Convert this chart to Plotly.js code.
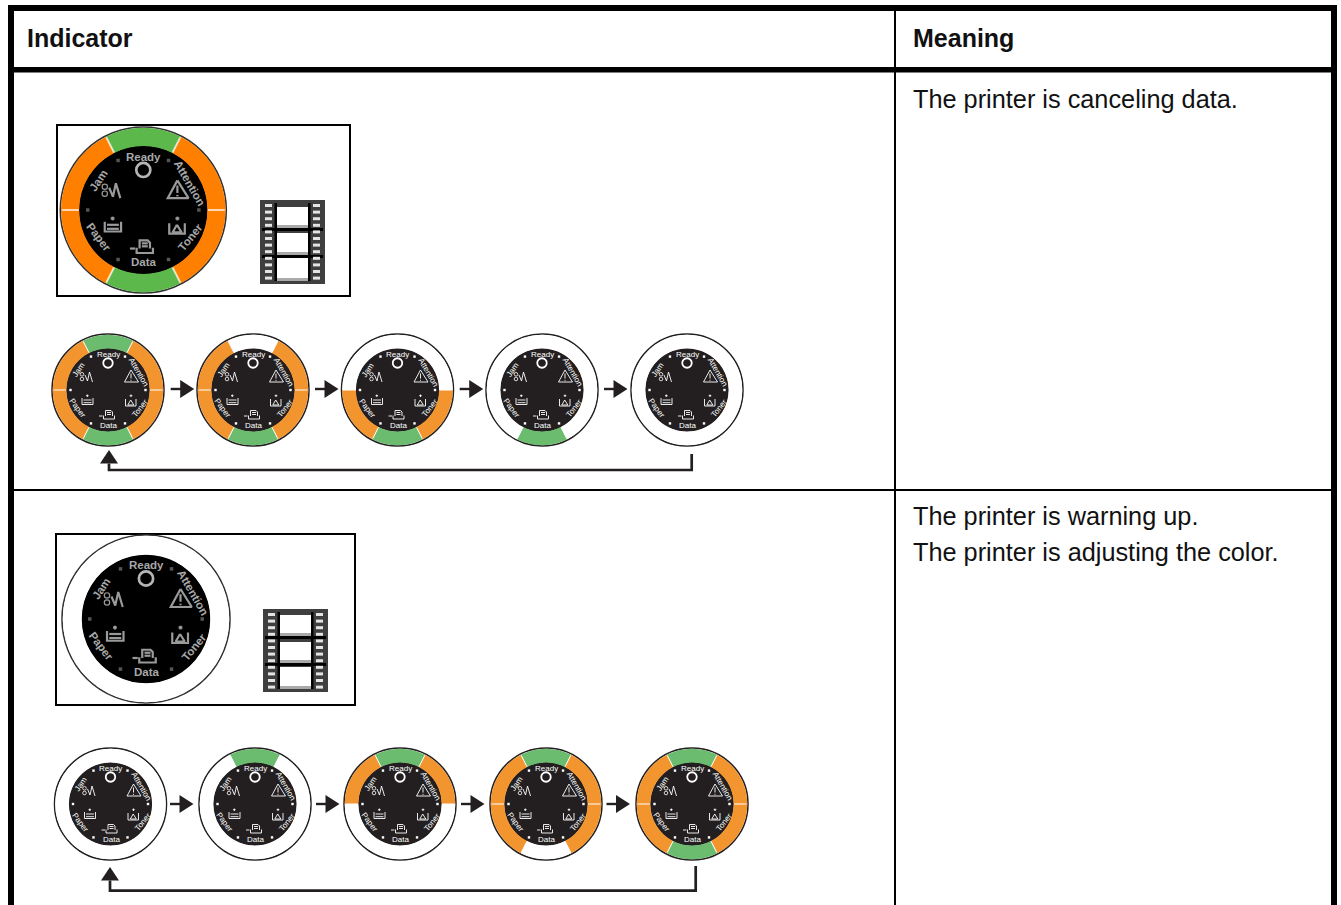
<!DOCTYPE html>
<html><head><meta charset="utf-8">
<script src="https://cdn.plot.ly/plotly-3.0.1.min.js"></script>
<style>html,body{margin:0;padding:0;background:#fff;overflow:hidden}#chart{width:1341px;height:905px}</style>
</head><body><div id="chart"></div>
<script>
// ---- content ----
const headers = ['Indicator', 'Meaning'];
const meaningRow1 = ['The printer is canceling data.'];
const meaningRow2 = ['The printer is warning up.', 'The printer is adjusting the color.'];
// clockwise from the top of the dial
const sectorShare = [54, 63, 63, 54, 63, 63];
const largeCancel = ['g','o','o','g','o','o'];
const largeWarm   = ['w','w','w','w','w','w'];
const cancelFrames = [
  ['g','o','o','g','o','o'],
  ['w','o','o','g','o','o'],
  ['w','w','o','g','o','w'],
  ['w','w','w','g','w','w'],
  ['w','w','w','w','w','w']
];
const warmFrames = [
  ['w','w','w','w','w','w'],
  ['g','w','w','w','w','w'],
  ['g','o','w','w','w','o'],
  ['g','o','o','w','o','o'],
  ['g','o','o','g','o','o']
];
const dialWords = ['Ready','Attention','Toner','Data','Paper','Jam'];

// ---- layout geometry ----
const W = 1341, H = 905;
const FONT = '"Liberation Sans", Arial, sans-serif';
const wordPlace = [[0,-36,0],[31,-18,60],[32,18.5,-51],[0.5,35,0],[-30,18,53],[-30,-20,-56]];
const row1Centers = [108,253,397.5,542,687], row1Y = 390;
const row2Centers = [110.5,255,400,546,692], row2Y = 804;
const arrow1X = [170.7,315,459.7,604], arrow2X = [170,316,461,606.5];

// dial glyph outlines, offsets from dial centre at small scale
const glyphLines = [
  [[-23,-15],[-20.5,-9],[-18.5,-18],[-15.5,-8]],
  [[23,-20],[16.5,-8],[30.5,-8],[23,-20]],
  [[23,-16.5],[23,-11.5]],[[23,-10.2],[23,-9.2]],
  [[-26,8],[-26,14.5],[-15,14.5],[-15,8]],
  [[-24.5,10],[-16.5,10]],[[-24.5,12.7],[-16.5,12.7]],
  [[-20.7,4.5],[-20.7,7]],[[-22,5.7],[-19.4,5.7]],
  [[17.5,9],[17.5,16],[28,16],[28,9]],
  [[22.7,10],[19.8,15],[25.8,15],[22.7,10]],
  [[23,4.5],[23,7]],[[21.7,5.7],[24.3,5.7]],
  [[-2.5,26],[-2.5,20.5],[3,20.5],[4.5,22],[4.5,26]],
  [[-1,22.5],[3,22.5]],[[-1,24.5],[3,24.5]],
  [[-4.5,25.5],[-4.5,29],[6.5,29],[6.5,25.5]],
  [[-9,26],[-5.5,26]]
];
const glyphLoops = [[-26,-15.7],[-26,-11]];

const traces = [], shapes = [], annotations = [];
const rect = (x0,y0,x1,y1,fill,layer) => shapes.push({type:'rect',xref:'x',yref:'y',x0,y0,x1,y1,
  fillcolor:fill,line:{width:0},layer:layer||'below'});

// table rules
rect(8,5,1337,11,'#000'); rect(8,5,14,H,'#000'); rect(1331,5,1337,H,'#000');
rect(8,67,1337,72.4,'#000'); rect(894,11,896,H,'#000'); rect(14,489,1331,491,'#000');

function textAt(x,y,text,size,color,bold,angle){
  annotations.push({xref:'x',yref:'y',x,y,text:bold?'<b>'+text+'</b>':text,showarrow:false,
    xanchor:angle===undefined?'left':'center',yanchor:'middle',borderpad:0,borderwidth:0,
    textangle:angle||0,font:{family:FONT,size,color}});
}

function dial(cx,cy,R,r,states,big){
  const s = R/56, pal = big?{g:'#5DB84B',o:'#FF7F00',w:'#ffffff'}:{g:'#6CBC70',o:'#F3952F',w:'#ffffff'};
  const ink = big?'#9a9a9a':'#ffffff', face = big?'#000000':'#231F20';
  traces.push({type:'scatter',mode:'markers',x:[cx],y:[cy],hoverinfo:'skip',showlegend:false,
    marker:{size:2*R,color:'#ffffff',line:{color:big?'#333':'#231F20',width:big?1.6:1.5}}});
  traces.push({type:'scatter',mode:'markers',x:[cx],y:[cy],hoverinfo:'skip',showlegend:false,
    marker:{size:2*r,color:face,line:{width:0}}});
  const Rp = R-0.7;
  traces.push({type:'pie',values:sectorShare,sort:false,direction:'clockwise',rotation:-sectorShare[0]/2,
    hole:(r-0.4)/Rp,textinfo:'none',hoverinfo:'skip',showlegend:false,
    marker:{colors:states.map(k=>pal[k]),line:{width:0}},
    domain:{x:[(cx-Rp)/W,(cx+Rp)/W],y:[1-(cy+Rp)/H,1-(cy-Rp)/H]}});
  // sector seams and dots at every boundary
  let a = -sectorShare[0]/2; const dx=[],dy=[];
  sectorShare.forEach(v=>{
    const t=a*Math.PI/180, sx=Math.sin(t), cy_=-Math.cos(t);
    shapes.push({type:'line',xref:'x',yref:'y',layer:'above',x0:cx+sx*r,y0:cy+cy_*r,x1:cx+sx*(R-1.5),y1:cy+cy_*(R-1.5),
      line:{color:big?'rgba(255,255,255,0.7)':'#ffffff',width:big?2:1}});
    dx.push(cx+sx*37.5*s); dy.push(cy+cy_*37.5*s);
    a+=v;
  });
  traces.push({type:'scatter',mode:'markers',x:dx,y:dy,hoverinfo:'skip',showlegend:false,
    marker:{size:big?3.5:2.4,symbol:'square',color:big?'#555':'#fff'}});
  // glyphs
  const gx=[],gy=[];
  glyphLines.forEach(l=>{l.forEach(p=>{gx.push(cx+p[0]*s);gy.push(cy+p[1]*s);});gx.push(null);gy.push(null);});
  traces.push({type:'scatter',mode:'lines',x:gx,y:gy,hoverinfo:'skip',showlegend:false,
    line:{color:ink,width:big?2.2:0.9}});
  traces.push({type:'scatter',mode:'markers',x:[cx],y:[cy-27*s],hoverinfo:'skip',showlegend:false,
    marker:{symbol:'circle-open',size:9.5*s,color:big?'#b5b5b5':'#fff',line:{color:big?'#b5b5b5':'#fff',width:1.8*s}}});
  traces.push({type:'scatter',mode:'markers',x:glyphLoops.map(p=>cx+p[0]*s),y:glyphLoops.map(p=>cy+p[1]*s),
    hoverinfo:'skip',showlegend:false,marker:{symbol:'circle-open',size:3.6*s,color:ink,line:{color:ink,width:0.8*s}}});
  dialWords.forEach((w,i)=>{
    const p=wordPlace[i];
    textAt(cx+p[0]*s,cy+p[1]*s,w,big?11.5:8,big?'#a8a8a8':'#ffffff',big,p[2]);
  });
}

function film(x0,y0,x1,y1,wins){
  const wl=x0+17,wr=x1-17;
  rect(x0,y0,x1,y1,'#3f3f3f');
  wins.forEach(w=>{ rect(wl,w[0],wr,w[1],'#ffffff'); rect(wl,w[1],wr,w[1]+3,'#a9a9a9'); });
  rect(wl-2.5,y0+3,wl,y1-3,'#000'); rect(wr,y0+3,wr+2.5,y1-3,'#000');
  wins.slice(0,-1).forEach(w=>rect(x0+2,w[1]+3,x1-2,w[1]+6,'#000'));
  for(let k=0;k<12;k++){
    const yy=y0+4+k*6.6;
    rect(x0+5,yy,x0+12,yy+3,'#e4e4e4'); rect(x1-12,yy,x1-5,yy+3,'#e4e4e4');
  }
}

// large picture boxes
shapes.push({type:'rect',xref:'x',yref:'y',x0:57,y0:125,x1:350,y1:296,fillcolor:'#fff',line:{color:'#000',width:2},layer:'below'});
shapes.push({type:'rect',xref:'x',yref:'y',x0:56,y0:534,x1:355,y1:705,fillcolor:'#fff',line:{color:'#000',width:2},layer:'below'});
film(260,200,325,284,[[207,225],[233,252],[258,278]]);
film(263,609,328,692,[[615,633],[642,660],[667,686]]);
dial(143.3,210,83,64.5,largeCancel,true);
dial(146,619,84,64.7,largeWarm,true);

// sequences
cancelFrames.forEach((f,i)=>dial(row1Centers[i],row1Y,56,42,f,false));
warmFrames.forEach((f,i)=>dial(row2Centers[i],row2Y,56,42,f,false));

// flow arrows
function flow(xs,y){
  const lx=[],ly=[],hx=[],hy=[];
  xs.forEach(x=>{
    lx.push(x,x+11,null); ly.push(y,y,null);
    hx.push(x+9.5,x+23.5,x+9.5,x+9.5,null); hy.push(y-9,y,y+9,y-9,null);
  });
  traces.push({type:'scatter',mode:'lines',x:lx,y:ly,line:{color:'#231F20',width:2.4},hoverinfo:'skip',showlegend:false});
  traces.push({type:'scatter',mode:'lines',x:hx,y:hy,fill:'toself',fillcolor:'#231F20',line:{width:0},hoverinfo:'skip',showlegend:false});
}
flow(arrow1X,row1Y-1); flow(arrow2X,row2Y);
function loop(xr,top,bot,xl,tip,base){
  traces.push({type:'scatter',mode:'lines',x:[xr,xr,xl,xl],y:[top,bot,bot,base],
    line:{color:'#231F20',width:2.7},hoverinfo:'skip',showlegend:false});
  traces.push({type:'scatter',mode:'lines',x:[xl-9,xl,xl+9,xl-9],y:[base,tip,base,base],fill:'toself',
    fillcolor:'#231F20',line:{width:0},hoverinfo:'skip',showlegend:false});
}
loop(691.7,454,470,109,450,463.5);
loop(695.7,866,890.7,110,867,880.5);

// table text
textAt(27,37.5,headers[0],25,'#111',true);
textAt(913,37.5,headers[1],25,'#111',true);
meaningRow1.forEach((t,i)=>textAt(913,99+i*36,t,25.3,'#111',false));
meaningRow2.forEach((t,i)=>textAt(913,516+i*36,t,25.3,'#111',false));

const layout={width:W,height:H,margin:{l:0,r:0,t:0,b:0,pad:0},paper_bgcolor:'#fff',plot_bgcolor:'#fff',
  showlegend:false,shapes,annotations,hovermode:false,
  xaxis:{range:[0,W],visible:false,fixedrange:true},
  yaxis:{range:[H,0],visible:false,fixedrange:true}};
Plotly.newPlot('chart',traces,layout,{displayModeBar:false,staticPlot:true});
</script></body></html>
